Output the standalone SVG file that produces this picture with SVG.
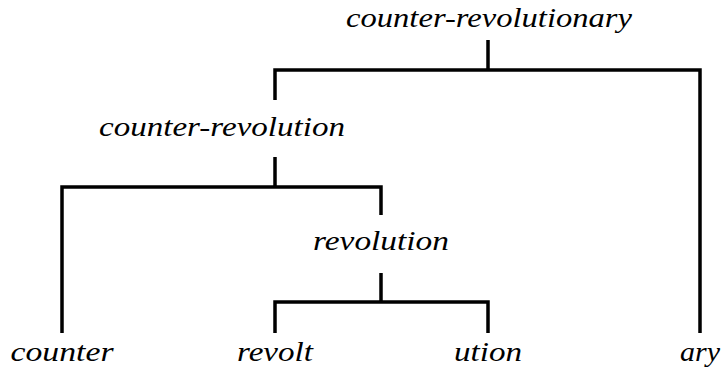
<svg xmlns="http://www.w3.org/2000/svg" width="727" height="375" viewBox="0 0 727 375">
<style>
text{font-family:"Liberation Serif","Times New Roman",serif;font-style:italic;font-size:28px;fill:#000;text-anchor:middle}
.c{stroke:#000;stroke-width:3.5;fill:none;stroke-linecap:butt;stroke-linejoin:miter}
</style>
<rect width="727" height="375" fill="#fff"/>
<g id="connectors">
<path class="c" d="M488,40 V70 M275,100 V70 H700 V333"/>
<path class="c" d="M275,157 V187 M62,333 V187 H381 V215"/>
<path class="c" d="M381,273 V302 M275,333 V302 H488 V333"/>
</g>
<g id="n-top"><text x="489" y="27" textLength="286" lengthAdjust="spacingAndGlyphs">counter-revolutionary</text></g>
<g id="n-cr"><text x="222" y="136" textLength="246" lengthAdjust="spacingAndGlyphs">counter-revolution</text></g>
<g id="n-rev"><text x="381" y="250" textLength="136" lengthAdjust="spacingAndGlyphs">revolution</text></g>
<g id="n-counter"><text x="62" y="361" textLength="103" lengthAdjust="spacingAndGlyphs">counter</text></g>
<g id="n-revolt"><text x="275" y="361" textLength="76" lengthAdjust="spacingAndGlyphs">revolt</text></g>
<g id="n-ution"><text x="488" y="361" textLength="68" lengthAdjust="spacingAndGlyphs">ution</text></g>
<g id="n-ary"><text x="700" y="361" textLength="40" lengthAdjust="spacingAndGlyphs">ary</text></g>
</svg>
